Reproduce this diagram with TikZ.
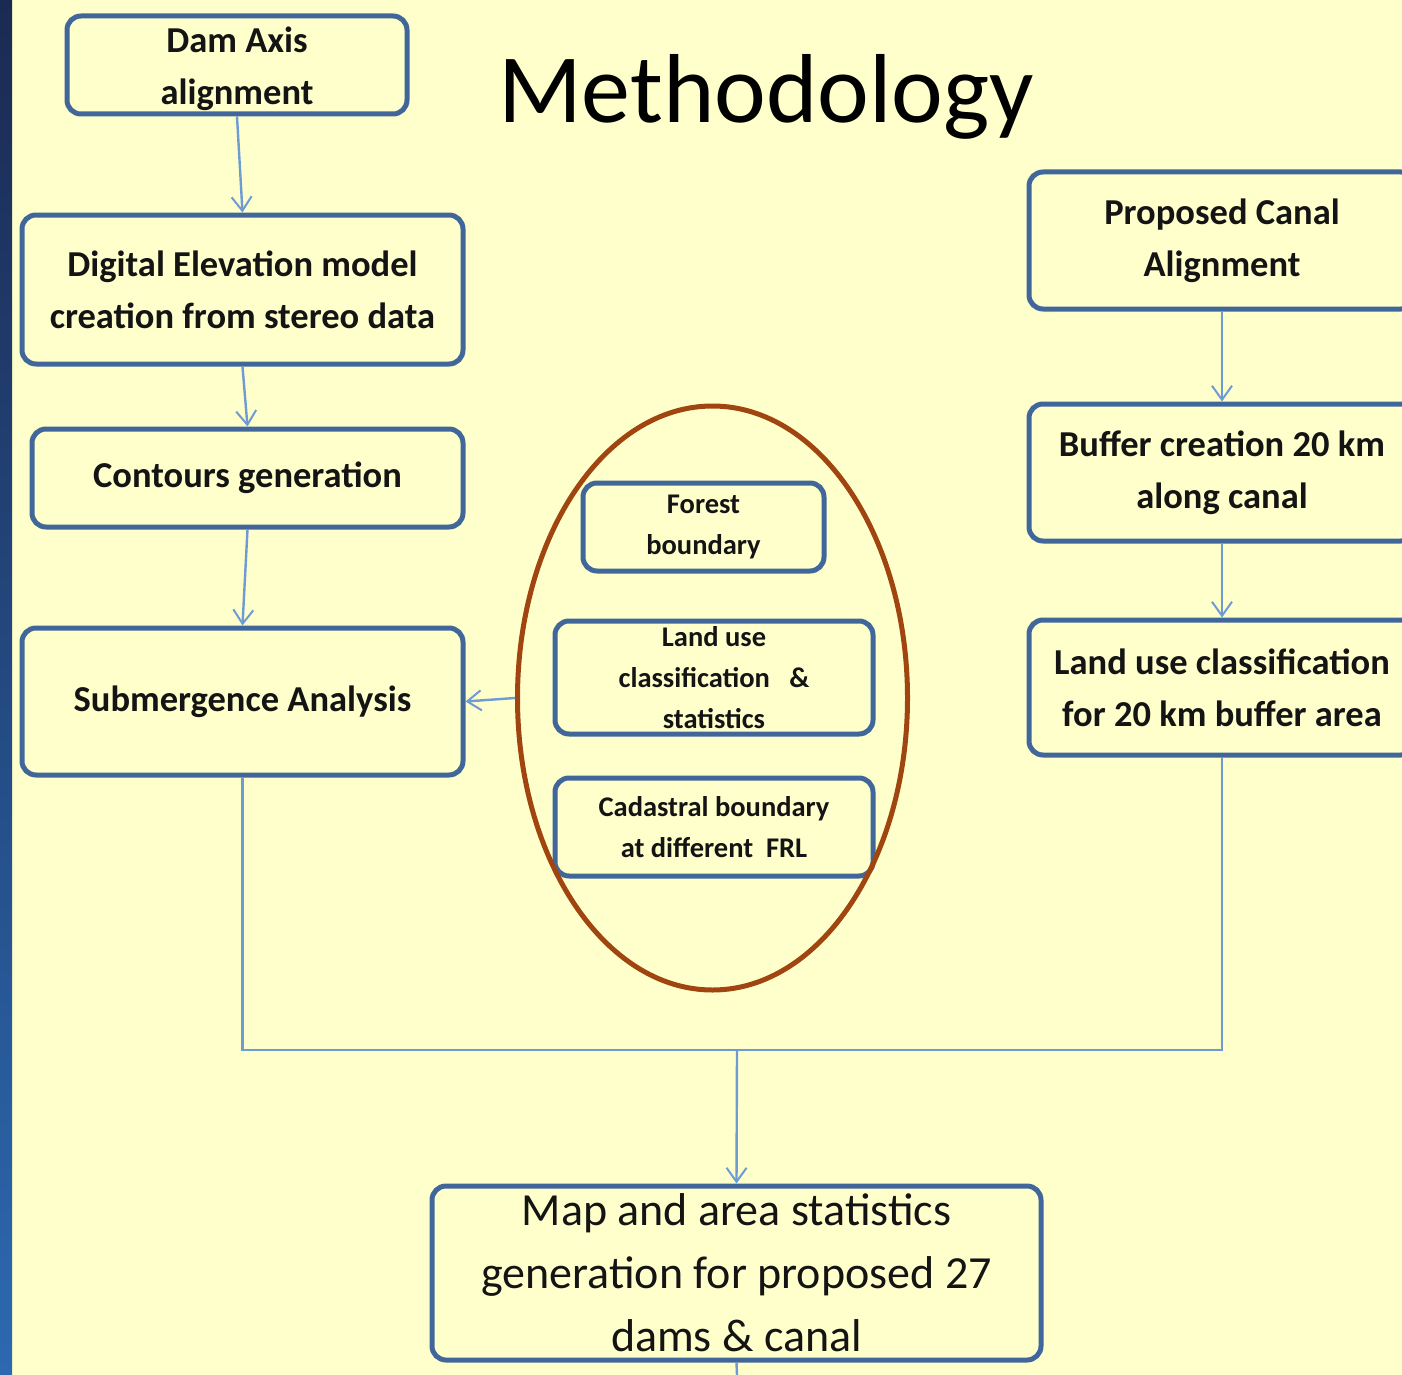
\documentclass[tikz,border=0pt]{standalone}
\usepackage{fontspec}
\setmainfont{Carlito}
\usetikzlibrary{arrows.meta,shapes.geometric}
\definecolor{bgyellow}{HTML}{FFFFCC}
\definecolor{boxline}{HTML}{41679A}
\definecolor{conncol}{HTML}{6E9BD4}
\definecolor{ellcol}{HTML}{A0450F}
\definecolor{stripA}{HTML}{1B2A52}
\definecolor{stripB}{HTML}{2C69B0}
\definecolor{txt}{HTML}{141414}
\begin{document}
\begin{tikzpicture}[x=1pt,y=-1pt,
  box/.style={draw=boxline, line width=5pt, rounded corners=14pt, fill=bgyellow,
    inner sep=0pt, align=center, text=txt,
    font=\bfseries\fontsize{36.5}{52}\selectfont},
  smallbox/.style={box, font=\bfseries\fontsize{28.5}{41}\selectfont},
  mapbox/.style={box, font=\fontsize{46}{63}\selectfont},
  conn/.style={draw=conncol, line width=2.4pt},
  arr/.style={conn, -{Straight Barb[length=14pt,width=20pt,line width=2pt]}},
  ring/.style={ellipse, draw=ellcol, line width=5pt, inner sep=0pt}
]
\useasboundingbox (0,0) rectangle (1402,1375);
\clip (0,0) rectangle (1402,1375);
\fill[bgyellow] (0,0) rectangle (1402,1375);
\shade[top color=stripA, bottom color=stripB] (0,0) rectangle (12,1375);

\node[font=\fontsize{98}{110}\selectfont, text=black, inner sep=0pt] (title) at (766,97) {Methodology};

% left column
\node[box, minimum width=340pt, minimum height=98pt] (dam) at (237,65) {\raisebox{-9pt}[0pt][0pt]{\begin{tabular}{@{}c@{}}Dam Axis\\alignment\end{tabular}}};
\node[box, minimum width=441pt, minimum height=149pt] (dem) at (242.5,289.5) {Digital Elevation model\\creation from stereo data};
\node[box, minimum width=431pt, minimum height=98pt] (cont) at (247.5,478) {Contours generation};
\node[box, minimum width=441pt, minimum height=147pt] (sub) at (242.5,701.5) {Submergence Analysis};

% middle group
\node[smallbox, minimum width=241pt, minimum height=88pt] (forest) at (703.5,527) {Forest\\boundary};
\node[smallbox, minimum width=318pt, minimum height=113pt] (landuse) at (714,677.5) {Land use\\classification \ \ \&\\statistics};
\node[smallbox, minimum width=318pt, minimum height=98pt] (cad) at (714,827) {Cadastral boundary\\at different \ FRL};
\node[ring, minimum width=390pt, minimum height=584pt] (ell) at (712.5,698) {};

% right column
\node[box, minimum width=386pt, minimum height=137pt] (canal) at (1222,240.5) {Proposed Canal\\Alignment};
\node[box, minimum width=386pt, minimum height=137pt] (buffer) at (1222,472.5) {Buffer creation 20 km\\along canal};
\node[box, minimum width=386pt, minimum height=135pt] (lur) at (1222,687.5) {Land use classification\\for 20 km buffer area};

% bottom
\node[mapbox, minimum width=609pt, minimum height=174pt] (map) at (736.5,1273) {Map and area statistics\\generation for proposed 27\\dams \& canal};

% connectors
\draw[arr] (dam.south) -- (dem.north);
\draw[arr] (dem.south) -- (cont.north);
\draw[arr] (cont.south) -- (sub.north);
\draw[arr] (ell.west) -- (sub.east);
\draw[arr] (canal.south) -- (buffer.north);
\draw[arr] (buffer.south) -- (lur.north);
\coordinate (junction) at (737,1050);
\coordinate (bottomend) at (737,1375);
\draw[conn] (sub.south) |- (junction);
\draw[conn] (lur.south) |- (junction);
\draw[arr] (junction) -- (map.north);
\draw[conn] (map.south) -- (bottomend);
\end{tikzpicture}
\end{document}
